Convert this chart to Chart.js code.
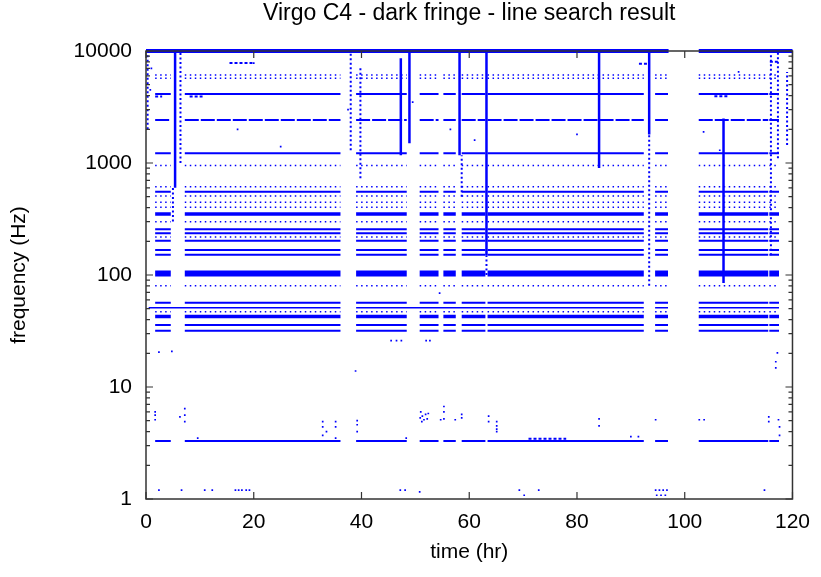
<!DOCTYPE html>
<html><head><meta charset="utf-8">
<script src="https://cdn.jsdelivr.net/npm/chart.js@4.4.1/dist/chart.umd.min.js"></script>
<style>html,body{margin:0;padding:0;background:#fff}#wrap{width:821px;height:577px}</style>
</head><body><div id="wrap"><canvas id="c" width="821" height="577"></canvas></div>
<script>
const titleText = 'Virgo C4 - dark fringe - line search result';
const xLabel = 'time (hr)';
const yLabel = 'frequency (Hz)';
const xTicks = [0, 20, 40, 60, 80, 100, 120];
const yTicks = [1, 10, 100, 1000, 10000];

// observation segments (hr)
const segments = [[1.7,4.6],[7.2,36.1],[39.0,48.4],[50.8,54.3],[55.2,57.5],[58.6,63.0],[63.4,92.4],[94.5,96.9],[102.6,115.5],[115.7,117.5]];
const topSegments = [[0,97],[102.6,120]];
const fiftySegments = [[0.5,36.1],[39.0,92.4],[94.5,96.9],[102.6,117.5]];

// persistent lines (Hz)
const bandLines = [103];
const boldLines = [350, 42.5];
const solidLines = [4130, 1219, 555, 256, 236, 202, 167, 152, 56.6, 35.8, 31.8, 3.3];
const dashedLines = [2420];
const sparseLines = [6110, 5710, 950, 614, 508, 446, 402, 299, 218, 80, 47];
const topLine = [10000];
const fiftyLine = [51.1];

// short line pieces: [freq, t0, t1]
const shortLines = [[7800,15.5,20],[7700,91.5,93],[8000,115.8,117.5],[3950,105.5,108.2],[3920,1.7,3.0],[3920,8.1,10.5],[3.45,71,78]];

// vertical bursts: [t, fLow, fHigh]
const solidBursts = [[5.4,600,10000],[48.9,1500,10000],[47.3,1170,8600],[84.1,900,10000],[93.4,1800,10000],[107.2,85,2500],[63.2,150,10000],[58.2,1170,10000]];
const dottedBursts = [[0.3,2000,10000],[6.4,1000,10000],[5.0,300,600],[38.0,1300,10000],[39.8,730,7000],[58.6,500,1170],[63.2,100,150],[93.4,80,1800],[116.0,150,10000],[117.3,1100,10000],[119.0,1450,6500]];

// isolated detections: [t, f]
const dots = [
 [2.4,1.2],[6.6,1.2],[10.9,1.2],[12.3,1.2],[16.6,1.2],[17.2,1.2],[17.8,1.2],[18.6,1.2],[19.2,1.2],[47.2,1.2],[48.1,1.2],[50.8,1.16],[69.3,1.2],[70.2,1.08],[72.9,1.2],[94.6,1.2],[95.3,1.2],[96.0,1.2],[96.7,1.2],[94.8,1.08],[95.6,1.08],[96.4,1.08],[114.8,1.2],
 [2.4,20.5],[4.8,20.8],[117.2,20.2],[116.9,16.8],[116.9,14.8],[38.9,13.9],
 [1.7,6.0],[1.7,5.6],[1.7,5.1],[6.3,5.4],[7.2,6.4],[7.2,5.6],[7.2,4.9],[9.6,3.5],[32.8,4.9],[32.8,4.4],[32.8,3.7],[33.5,4.0],[35.2,4.9],[35.2,4.4],[35.2,3.5],[39.2,5.0],[39.2,4.6],[39.2,4.0],[48.3,3.5],
 [51.0,6.0],[51.3,5.5],[51.6,5.1],[51.9,5.7],[52.2,5.2],[51.2,4.9],[50.9,5.3],[52.4,5.8],[54.7,5.1],[55.3,6.7],[55.3,6.0],[55.3,5.2],[57.4,5.1],[58.6,5.7],[58.6,5.3],[63.6,5.5],[63.6,4.9],[65.1,4.9],[65.1,4.5],[65.1,4.2],[65.1,4.0],[84.1,5.2],[84.1,4.5],[90.0,3.6],[91.4,3.6],[94.6,5.1],[102.7,5.1],[103.6,5.1],[115.6,5.4],[115.6,4.9],[117.4,5.1],[117.6,4.4],[117.6,3.7],
 [45.5,25.9],[46.5,25.9],[47.4,25.9],[52.0,25.9],[52.7,25.9],[54.5,69],
 [17,2000],[25,1400],[56.5,2000],[80,1800],[103.5,1900],[106.5,1300],[20,7800],[1.0,7000],[0.8,4500],[37.5,3000],[49.5,3500],[61,1600],[110,6500]
];

function hLines(freqs, segs) {
  const out = [];
  freqs.forEach(f => segs.forEach(([a, b]) => { out.push({x:a,y:f},{x:b,y:f},{x:b,y:null}); }));
  return out;
}
function shortData(list) {
  const out = [];
  list.forEach(([f,a,b]) => out.push({x:a,y:f},{x:b,y:f},{x:b,y:null}));
  return out;
}
function vLines(list) {
  const out = [];
  list.forEach(([t,lo,hi]) => out.push({x:t,y:lo},{x:t,y:hi},{x:t,y:null}));
  return out;
}
const BLUE = '#0000ff';
function lineDs(data, width, dash) {
  return {type:'line', data, borderColor:BLUE, backgroundColor:BLUE, borderWidth:width, borderDash:dash||[], pointRadius:0, spanGaps:false, tension:0, clip:6, borderCapStyle:'butt'};
}
const FONT = '"Liberation Sans", Arial, sans-serif';

const frame = {
  id:'frame',
  afterDraw(chart){
    const {ctx, chartArea:a, scales} = chart;
    ctx.save();
    ctx.strokeStyle = '#333';
    ctx.lineWidth = 1.5;
    ctx.strokeRect(a.left, a.top, a.right-a.left, a.bottom-a.top);
    ctx.lineWidth = 1.2;
    ctx.beginPath();
    xTicks.forEach(v => {
      const px = scales.x.getPixelForValue(v);
      ctx.moveTo(px, a.bottom); ctx.lineTo(px, a.bottom-7);
      ctx.moveTo(px, a.top); ctx.lineTo(px, a.top+7);
    });
    for (let i = 0; i < yTicks.length; i++) {
      const d = yTicks[i];
      const py = scales.y.getPixelForValue(d);
      ctx.moveTo(a.left, py); ctx.lineTo(a.left+7, py);
      ctx.moveTo(a.right, py); ctx.lineTo(a.right-7, py);
      if (i < yTicks.length-1) {
        for (let k = 2; k <= 9; k++) {
          const pm = scales.y.getPixelForValue(k*d);
          ctx.moveTo(a.left, pm); ctx.lineTo(a.left+4, pm);
          ctx.moveTo(a.right, pm); ctx.lineTo(a.right-4, pm);
        }
      }
    }
    ctx.stroke();
    ctx.fillStyle = '#000';
    ctx.font = '23px ' + FONT;
    ctx.textAlign = 'center';
    ctx.textBaseline = 'middle';
    ctx.fillText(titleText, (a.left+a.right)/2, 14);
    ctx.restore();
  }
};

const tickFont = {family:FONT, size:21};

new Chart(document.getElementById('c'), {
  type:'line',
  data:{datasets:[
    lineDs(hLines(bandLines, segments), 6),
    lineDs(hLines(boldLines, segments), 3.5),
    lineDs(hLines(solidLines, segments), 2),
    lineDs(hLines(dashedLines, segments), 2, [14,2]),
    lineDs(hLines(sparseLines, segments), 1.5, [1.5,3.5]),
    lineDs(hLines(topLine, topSegments), 4),
    lineDs(hLines(fiftyLine, fiftySegments), 1.5),
    lineDs(shortData(shortLines), 2, [3,2]),
    lineDs(vLines(solidBursts), 2.5),
    lineDs(vLines(dottedBursts), 2, [2,2.5]),
    {type:'line', data:dots.map(([x,y])=>({x,y})), showLine:false, pointRadius:1.2, pointStyle:'rect', pointBorderWidth:0, pointBackgroundColor:BLUE, borderColor:BLUE, clip:6}
  ]},
  options:{
    responsive:false, animation:false, devicePixelRatio:1,
    layout:{padding:{left:0, top:51, right:24, bottom:0}},
    plugins:{legend:{display:false}, tooltip:{enabled:false}, title:{display:false}},
    scales:{
      x:{type:'linear', min:0, max:120, position:'bottom',
        grid:{display:false, drawTicks:false}, border:{display:false},
        afterBuildTicks:s=>{s.ticks = xTicks.map(v=>({value:v}));},
        ticks:{font:tickFont, color:'#000', padding:11, maxRotation:0, autoSkip:false},
        title:{display:true, text:xLabel, font:tickFont, color:'#000', padding:{top:0,bottom:12}},
        afterFit:s=>{s.height = 78;}
      },
      y:{type:'logarithmic', min:1, max:10000,
        grid:{display:false, drawTicks:false}, border:{display:false},
        afterBuildTicks:s=>{s.ticks = yTicks.map(v=>({value:v}));},
        ticks:{font:tickFont, color:'#000', padding:14, autoSkip:false, callback:v=>String(v)},
        title:{display:true, text:yLabel, font:tickFont, color:'#000', padding:{top:7,bottom:0}},
        afterFit:s=>{s.width = 146;}
      }
    }
  },
  plugins:[frame]
});
</script></body></html>
